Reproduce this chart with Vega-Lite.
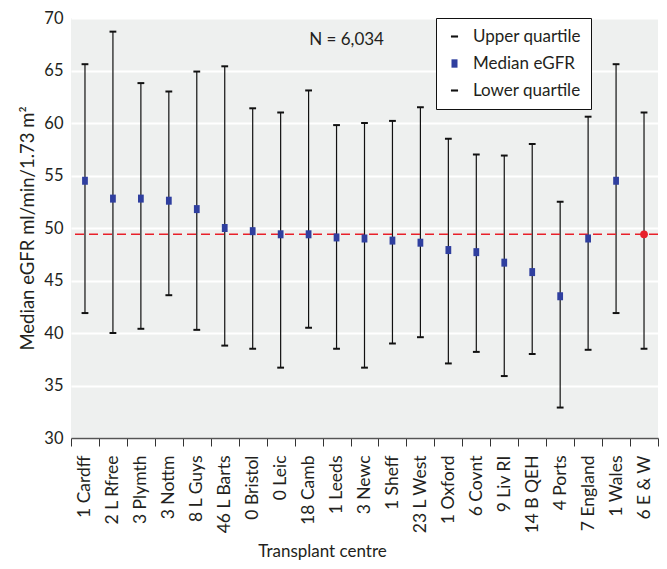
{
  "$schema": "https://vega.github.io/schema/vega-lite/v6.json",
  "width": 587,
  "height": 420,
  "autosize": {"type": "none"},
  "padding": {"left": 71, "top": 18, "right": 9, "bottom": 131},
  "background": "white",
  "config": {
    "font": "Lato",
    "view": {"fill": "#eef0ef", "stroke": null},
    "axis": {"labelColor": "#231f20", "titleColor": "#231f20", "titleFontWeight": "normal"}
  },
  "datasets": {
    "centres": [
      {"centre": "1 Cardff", "Lower quartile": 41.9, "Median eGFR": 54.5, "Upper quartile": 65.6},
      {"centre": "2 L Rfree", "Lower quartile": 40.0, "Median eGFR": 52.8, "Upper quartile": 68.7},
      {"centre": "3 Plymth", "Lower quartile": 40.4, "Median eGFR": 52.8, "Upper quartile": 63.8},
      {"centre": "3 Nottm", "Lower quartile": 43.6, "Median eGFR": 52.6, "Upper quartile": 63.0},
      {"centre": "8 L Guys", "Lower quartile": 40.3, "Median eGFR": 51.8, "Upper quartile": 64.9},
      {"centre": "46 L Barts", "Lower quartile": 38.8, "Median eGFR": 50.0, "Upper quartile": 65.4},
      {"centre": "0 Bristol", "Lower quartile": 38.5, "Median eGFR": 49.7, "Upper quartile": 61.4},
      {"centre": "0 Leic", "Lower quartile": 36.7, "Median eGFR": 49.4, "Upper quartile": 61.0},
      {"centre": "18 Camb", "Lower quartile": 40.5, "Median eGFR": 49.4, "Upper quartile": 63.1},
      {"centre": "1 Leeds", "Lower quartile": 38.5, "Median eGFR": 49.1, "Upper quartile": 59.8},
      {"centre": "3 Newc", "Lower quartile": 36.7, "Median eGFR": 49.0, "Upper quartile": 60.0},
      {"centre": "1 Sheff", "Lower quartile": 39.0, "Median eGFR": 48.8, "Upper quartile": 60.2},
      {"centre": "23 L West", "Lower quartile": 39.6, "Median eGFR": 48.6, "Upper quartile": 61.5},
      {"centre": "1 Oxford", "Lower quartile": 37.1, "Median eGFR": 47.9, "Upper quartile": 58.5},
      {"centre": "6 Covnt", "Lower quartile": 38.2, "Median eGFR": 47.7, "Upper quartile": 57.0},
      {"centre": "9 Liv RI", "Lower quartile": 35.9, "Median eGFR": 46.7, "Upper quartile": 56.9},
      {"centre": "14 B QEH", "Lower quartile": 38.0, "Median eGFR": 45.8, "Upper quartile": 58.0},
      {"centre": "4 Ports", "Lower quartile": 32.9, "Median eGFR": 43.5, "Upper quartile": 52.5},
      {"centre": "7 England", "Lower quartile": 38.4, "Median eGFR": 49.0, "Upper quartile": 60.6},
      {"centre": "1 Wales", "Lower quartile": 41.9, "Median eGFR": 54.5, "Upper quartile": 65.6},
      {"centre": "6 E & W", "Lower quartile": 38.5, "Median eGFR": 49.4, "Upper quartile": 61.0}
    ],
    "reference": [{"label": "N = 6,034", "overall": 49.4, "labelY": 67.9}]
  },
  "layer": [
    {
      "data": {"name": "centres"},
      "mark": {"type": "rule", "color": "#111111", "strokeWidth": 1.2},
      "encoding": {
        "x": {
          "field": "centre",
          "type": "nominal",
          "sort": null,
          "scale": {"paddingInner": 0, "paddingOuter": 0},
          "axis": {
            "title": "Transplant centre",
            "titleFontSize": 17,
            "titleX": 251,
            "titleY": 118,
            "titleAlign": "center",
            "titleBaseline": "alphabetic",
            "labelAngle": -90,
            "labelFontSize": 17.5,
            "labelPadding": 9,
            "tickBand": "extent",
            "ticks": true,
            "tickSize": 8,
            "tickColor": "#333333",
            "domainColor": "#555555",
            "domainWidth": 1.5,
            "grid": false
          }
        },
        "y": {
          "field": "Lower quartile",
          "type": "quantitative",
          "scale": {"domain": [30, 70], "nice": false, "zero": false},
          "axis": {
            "title": "Median eGFR ml/min/1.73 m²",
            "titleFontSize": 18.5,
            "titlePadding": 6,
            "values": [30, 35, 40, 45, 50, 55, 60, 65, 70],
            "labelFontSize": 16.5,
            "labelPadding": 8,
            "domain": false,
            "ticks": false,
            "grid": true,
            "gridColor": "white",
            "gridWidth": 2
          }
        },
        "y2": {"field": "Upper quartile"}
      }
    },
    {
      "data": {"name": "reference"},
      "mark": {"type": "rule", "color": "#e8202a", "strokeWidth": 1.5, "strokeDash": [9, 5]},
      "encoding": {"y": {"field": "overall", "type": "quantitative"}}
    },
    {
      "data": {"name": "centres"},
      "transform": [
        {"fold": ["Upper quartile", "Median eGFR", "Lower quartile"], "as": ["stat", "value"]},
        {"filter": "!(datum.stat === 'Median eGFR' && datum.centre === '6 E & W')"}
      ],
      "mark": {"type": "point", "filled": true, "opacity": 1, "size": 64},
      "encoding": {
        "x": {"field": "centre", "type": "nominal", "sort": null},
        "y": {"field": "value", "type": "quantitative"},
        "color": {
          "field": "stat",
          "type": "nominal",
          "scale": {
            "domain": ["Upper quartile", "Median eGFR", "Lower quartile"],
            "range": ["#111111", "#2f3f9f", "#111111"]
          },
          "legend": {
            "title": null,
            "orient": "none",
            "legendX": 365,
            "legendY": 0,
            "fillColor": "white",
            "strokeColor": "#111111",
            "padding": 10,
            "labelFontSize": 17,
            "labelColor": "#231f20",
            "labelOffset": 10,
            "rowPadding": 9,
            "symbolSize": 70,
            "symbolStrokeWidth": 0
          }
        },
        "shape": {
          "field": "stat",
          "type": "nominal",
          "scale": {
            "domain": ["Upper quartile", "Median eGFR", "Lower quartile"],
            "range": [
              "M-0.85,-0.25L0.85,-0.25L0.85,0.25L-0.85,0.25Z",
              "M-0.72,-1L0.72,-1L0.72,1L-0.72,1Z",
              "M-0.85,-0.25L0.85,-0.25L0.85,0.25L-0.85,0.25Z"
            ]
          },
          "legend": {
            "title": null,
            "orient": "none",
            "legendX": 365,
            "legendY": 0,
            "fillColor": "white",
            "strokeColor": "#111111",
            "padding": 10,
            "labelFontSize": 17,
            "labelColor": "#231f20",
            "labelOffset": 10,
            "rowPadding": 9,
            "symbolSize": 70,
            "symbolStrokeWidth": 0
          }
        }
      }
    },
    {
      "data": {"name": "centres"},
      "transform": [{"filter": "datum.centre === '6 E & W'"}],
      "mark": {"type": "point", "shape": "circle", "filled": true, "opacity": 1, "color": "#e8202a", "size": 60},
      "encoding": {
        "x": {"field": "centre", "type": "nominal", "sort": null},
        "y": {"field": "Median eGFR", "type": "quantitative"}
      }
    },
    {
      "data": {"name": "reference"},
      "mark": {"type": "text", "fontSize": 17, "color": "#231f20", "align": "center", "baseline": "middle", "dx": 10},
      "encoding": {
        "x": {"datum": "1 Leeds"},
        "y": {"field": "labelY", "type": "quantitative"},
        "text": {"field": "label"}
      }
    }
  ]
}
